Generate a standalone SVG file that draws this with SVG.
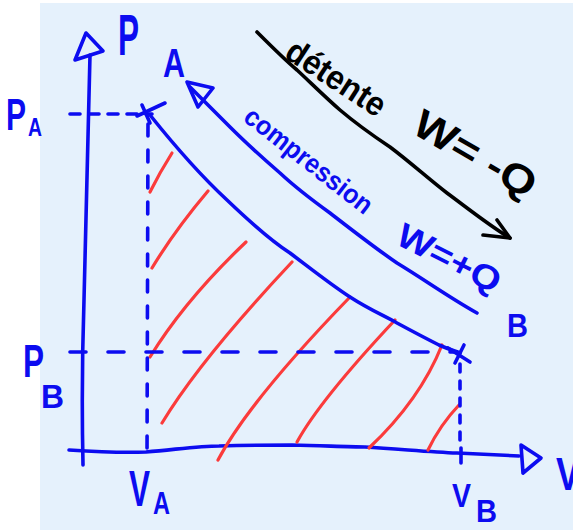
<svg xmlns="http://www.w3.org/2000/svg" width="573" height="530" viewBox="0 0 573 530">
<style>
.b{fill:none;stroke:#0c0cf0;stroke-width:3.6;stroke-linecap:round;stroke-linejoin:round}
.r{fill:none;stroke:#fb3b3b;stroke-width:3.2;stroke-linecap:round}
.k{fill:none;stroke:#000;stroke-width:3.6;stroke-linecap:round;stroke-linejoin:round}
.tb{fill:#0c0cf0;font-family:"Liberation Sans",sans-serif;font-weight:bold}
.tk{fill:#000;font-family:"Liberation Sans",sans-serif;font-weight:bold}
</style>
<rect x="40" y="3" width="533" height="527" fill="#e5f1fc"/>
<g id="axes">
<path class="b" d="M83,465 C82,420 82,360 84,300 C85,230 87,150 90,55"/>
<path class="b" d="M75,60 L86,33 L103,51 Z"/>
<path class="b" d="M69,450 C100,452 120,453 146,452 C180,449 200,446 219,446 C250,445 270,445 292,445 C330,446 350,447 365,447 C400,449 430,452 457,453 C480,454 500,455 519,456"/>
<path class="b" d="M521,445 L541,458 L523,473 Z"/>
<path class="b" d="M461,448 L461,463"/>
</g>
<g id="hatch">
<path class="r" d="M172,153 Q160,172 150,192"/>
<path class="r" d="M208,191 Q175,230 152,268"/>
<path class="r" d="M246,242 Q185,300 150,357"/>
<path class="r" d="M292,262 Q200,360 162,423"/>
<path class="r" d="M350,297 Q250,400 218,460"/>
<path class="r" d="M395,320 Q320,400 297,442"/>
<path class="r" d="M442,345 Q420,400 369,448"/>
<path class="r" d="M459,405 Q440,425 428,450"/>
</g>
<g id="guides">
<path class="b" d="M70,114 L152,114" stroke-dasharray="10 9"/>
<path class="b" d="M148,124 L147,460" stroke-dasharray="12 14"/>
<path class="b" d="M70,352 L455,352" stroke-dasharray="16 22"/>
<path class="b" d="M460,364 L460,448" stroke-dasharray="8 9"/>
</g>
<g id="point-A">
<path class="b" d="M142,105 L150,123 M165,103 L137,116"/>
<text class="tb" x="163" y="77" font-size="40" textLength="22" lengthAdjust="spacingAndGlyphs">A</text>
</g>
<g id="point-B">
<path class="b" d="M448,348 L470,362 M464,345 L455,363"/>
<text class="tb" x="507" y="337" font-size="34" textLength="21" lengthAdjust="spacingAndGlyphs">B</text>
</g>
<g id="curve-AB">
<path class="b" d="M150,115 C170,140 200,175 227,200 C250,222 270,240 290,253 C310,268 330,284 350,297 C370,310 385,316 397,323 C410,330 425,338 439,345 C448,349 455,351 460,353"/>
</g>
<g id="connectors">
<path class="k" d="M257,32 C270,45 285,60 297,70 C310,82 325,97 340,110 C360,127 375,137 390,147 C410,162 430,180 447,193 C470,210 490,226 510,238"/>
<path class="k" d="M483,235 L510,238 L497,220"/>
<path class="b" d="M190,87 C205,102 218,115 230,127 C248,145 265,160 280,173 C295,187 312,200 330,213 C352,230 375,248 397,263 C425,280 450,298 477,313"/>
<path class="b" d="M187,82 L213,88 L198,107 Z"/>
</g>
<g id="labels">
<text class="tb" x="118" y="55" font-size="58" textLength="21" lengthAdjust="spacingAndGlyphs">P</text>
<text class="tb" x="6" y="130" font-size="44" textLength="20" lengthAdjust="spacingAndGlyphs">P</text>
<text class="tb" x="28" y="136" font-size="26" textLength="14" lengthAdjust="spacingAndGlyphs">A</text>
<text class="tb" x="23" y="377" font-size="46" textLength="21" lengthAdjust="spacingAndGlyphs">P</text>
<text class="tb" x="41" y="408" font-size="33" textLength="23" lengthAdjust="spacingAndGlyphs">B</text>
<text class="tb" x="129" y="506" font-size="50" textLength="21" lengthAdjust="spacingAndGlyphs">V</text>
<text class="tb" x="153" y="514" font-size="32" textLength="17" lengthAdjust="spacingAndGlyphs">A</text>
<text class="tb" x="452" y="507" font-size="34" textLength="19" lengthAdjust="spacingAndGlyphs">V</text>
<text class="tb" x="476" y="522" font-size="32" textLength="21" lengthAdjust="spacingAndGlyphs">B</text>
<text class="tb" x="556" y="490" font-size="46" textLength="24" lengthAdjust="spacingAndGlyphs">V</text>
<text class="tk" x="283" y="57" font-size="34" textLength="112" lengthAdjust="spacingAndGlyphs" transform="rotate(33 283 57)">détente</text>
<text class="tk" x="410" y="132" font-size="40" textLength="135" lengthAdjust="spacingAndGlyphs" transform="rotate(30 410 132)">W= -Q</text>
<text class="tb" x="242" y="120" font-size="27" textLength="155" lengthAdjust="spacingAndGlyphs" transform="rotate(38 242 120)">compression</text>
<text class="tb" x="394" y="243" font-size="34" textLength="112" lengthAdjust="spacingAndGlyphs" transform="rotate(27 394 243)">W=+Q</text>
</g>
</svg>
